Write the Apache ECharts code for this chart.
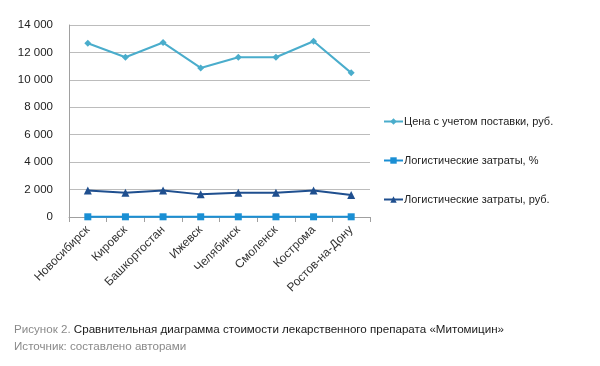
<!DOCTYPE html>
<html><head><meta charset="utf-8">
<script src="https://cdn.jsdelivr.net/npm/echarts@6/dist/echarts.min.js"></script>
<style>html,body{margin:0;padding:0;background:#fff}#c{width:600px;height:366px}</style>
</head><body><div id="c"></div>
<script>
const categories = ['Новосибирск','Кировск','Башкортостан','Ижевск','Челябинск','Смоленск','Кострома','Ростов-на-Дону'];
const priceRub = [12670, 11650, 12720, 10870, 11650, 11650, 12815, 10510];
const logisticsPct = [15, 15, 15, 15, 15, 15, 15, 15];
const logisticsRub = [1940, 1770, 1940, 1650, 1770, 1770, 1940, 1600];
const seriesNames = ['Цена с учетом поставки, руб.','Логистические затраты, %','Логистические затраты, руб.'];

const chart = echarts.init(document.getElementById('c'));
const font = 'Liberation Sans, Arial, sans-serif';
chart.setOption({
  animation: false,
  textStyle: {fontFamily: font},
  grid: {left: 69, right: 230, top: 25, bottom: 149, containLabel: false},
  title: {
    left: 9, top: 316,
    text: '{g|Рисунок 2. }{d|Сравнительная диаграмма стоимости лекарственного препарата «Митомицин»}\n{g|Источник: составлено авторами}',
    textStyle: {
      fontFamily: font, fontWeight: 'normal', lineHeight: 17,
      rich: {
        g: {color: '#8a8a8a', fontSize: 11.6, fontFamily: font, lineHeight: 17},
        d: {color: '#1a1a1a', fontSize: 11.6, fontFamily: font, lineHeight: 17}
      }
    }
  },
  legend: {
    orient: 'vertical', left: 378, top: 111, itemGap: 28,
    itemWidth: 19, itemHeight: 8,
    textStyle: {fontSize: 11, color: '#222', fontFamily: font, padding: [0,0,0,-4]},
    data: seriesNames
  },
  xAxis: {
    type: 'category', data: categories, boundaryGap: true,
    axisLine: {lineStyle: {color: '#a0a0a0'}},
    axisTick: {show: true, length: 5, lineStyle: {color: '#a0a0a0'}},
    axisLabel: {rotate: 45, fontSize: 12, color: '#333', margin: 11, interval: 0}
  },
  yAxis: {
    type: 'value', min: 0, max: 14000, interval: 2000,
    axisLine: {show: true, lineStyle: {color: '#a0a0a0'}},
    axisTick: {show: false},
    splitLine: {lineStyle: {color: '#bcbcbc'}},
    axisLabel: {fontSize: 11.5, color: '#222', margin: 16,
      formatter: v => v === 0 ? '0' : String(v).replace(/\B(?=(\d{3})+(?!\d))/g, ' ')}
  },
  series: [
    {name: seriesNames[0], type: 'line', data: priceRub, symbol: 'diamond', symbolSize: 7,
     lineStyle: {width: 2, color: '#4aadcc'}, itemStyle: {color: '#4aadcc'}},
    {name: seriesNames[1], type: 'line', data: logisticsPct, symbol: 'rect', symbolSize: 7,
     lineStyle: {width: 2, color: '#1a8fd4'}, itemStyle: {color: '#1a8fd4'}},
    {name: seriesNames[2], type: 'line', data: logisticsRub, symbol: 'triangle', symbolSize: 8,
     lineStyle: {width: 2, color: '#1f4f8f'}, itemStyle: {color: '#1f4f8f'}}
  ]
});
</script></body></html>
